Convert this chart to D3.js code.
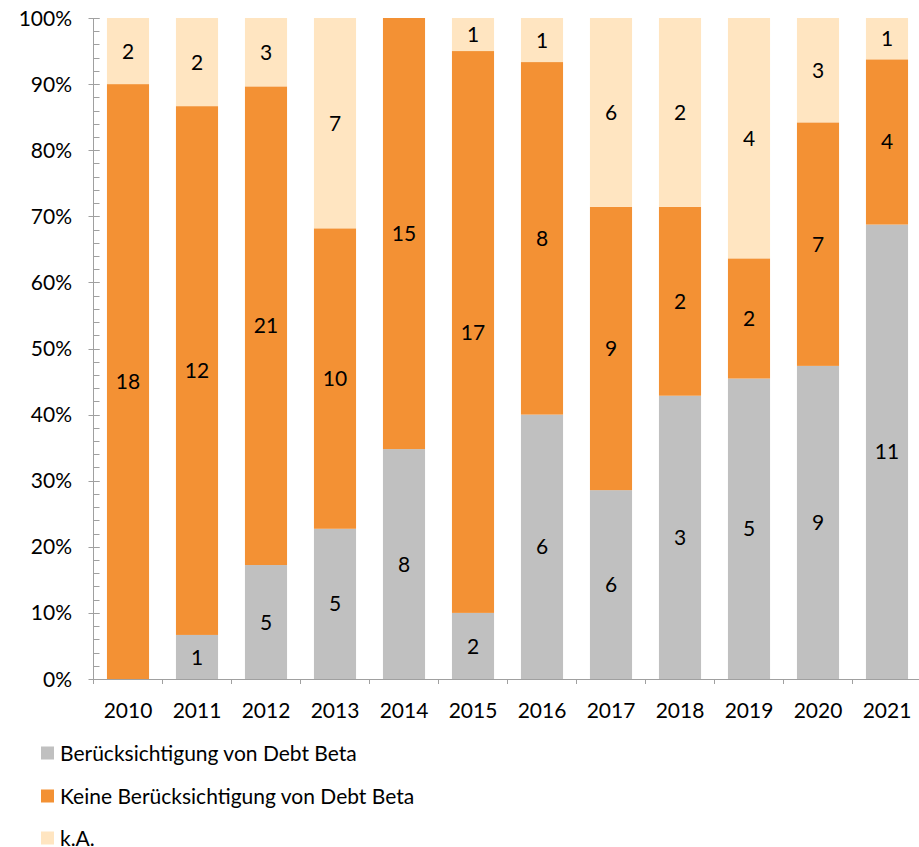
<!DOCTYPE html>
<html>
<head>
<meta charset="utf-8">
<script src="https://cdn.jsdelivr.net/npm/d3@7"></script>
<style>
  body { margin: 0; background: #fff; }
  text { font-family: Lato, "Open Sans", sans-serif; fill: #000; }
</style>
</head>
<body>
<div class="canvas"></div>
<script>
// data
const years = ['2010','2011','2012','2013','2014','2015','2016','2017','2018','2019','2020','2021'];
const mitBeta   = [0, 1, 5, 5, 8, 2, 6, 6, 3, 5, 9, 11];
const keineBeta = [18, 12, 21, 10, 15, 17, 8, 9, 2, 2, 7, 4];
const keineAng  = [2, 2, 3, 7, 0, 1, 1, 6, 2, 4, 3, 1];
const seriesNames = ['Berücksichtigung von Debt Beta', 'Keine Berücksichtigung von Debt Beta', 'k.A.'];
const seriesColors = ['#c0c0c0', '#f39134', '#ffe5c1'];

const W = 919, H = 847;
const m = { t: 18, l: 93.5, b: 168 };
const fs = '21px';

const rows = years.map((y, i) => ({
  year: y, a: mitBeta[i], b: keineBeta[i], c: keineAng[i]
}));
const keys = ['a', 'b', 'c'];

const stack = d3.stack().keys(keys).offset(d3.stackOffsetExpand);
const layers = stack(rows);

const svg = d3.select('.canvas').append('svg')
  .attr('width', W).attr('height', H);

const step = 69;
const x = d3.scaleBand()
  .domain(years)
  .range([m.l, m.l + step * years.length])
  .paddingInner(0.39)
  .paddingOuter(0.195);

const y = d3.scaleLinear().domain([0, 1]).range([H - m.b, m.t]);

//bars
const g = svg.append('g');
layers.forEach((layer, li) => {
  g.selectAll('.bar-' + li)
    .data(layer)
    .enter()
    .append('rect')
    .attr('x', d => x(d.data.year))
    .attr('y', d => y(d[1]))
    .attr('width', x.bandwidth())
    .attr('height', d => y(d[0]) - y(d[1]))
    .style('fill', seriesColors[li]);

  g.selectAll('.lab-' + li)
    .data(layer.filter(d => d.data[keys[li]] > 0))
    .enter()
    .append('text')
    .attr('x', d => x(d.data.year) + x.bandwidth() / 2)
    .attr('y', d => (y(d[0]) + y(d[1])) / 2)
    .attr('dy', '.36em')
    .attr('text-anchor', 'middle')
    .style('font-size', fs)
    .text(d => d.data[keys[li]]);
});

//y axis
const axisColor = '#a0a0a0';
const yAxis = svg.append('g');
yAxis.append('line')
  .attr('x1', m.l).attr('x2', m.l)
  .attr('y1', y(0)).attr('y2', y(1))
  .style('stroke', axisColor);
const minor = d3.range(0, 101, 2).map(v => v / 100);
yAxis.selectAll('.minor').data(minor).enter().append('line')
  .attr('x1', m.l).attr('x2', m.l + 6)
  .attr('y1', d => Math.round(y(d)) + 0.5).attr('y2', d => Math.round(y(d)) + 0.5)
  .style('stroke', axisColor);
const major = d3.range(0, 11).map(v => v / 10);
yAxis.selectAll('.major').data(major).enter().append('line')
  .attr('x1', m.l - 5).attr('x2', m.l + 6)
  .attr('y1', d => Math.round(y(d)) + 0.5).attr('y2', d => Math.round(y(d)) + 0.5)
  .style('stroke', axisColor);
yAxis.selectAll('.ylab').data(major).enter().append('text')
  .attr('x', 72)
  .attr('y', d => y(d))
  .attr('dy', '.36em')
  .attr('text-anchor', 'end')
  .style('font-size', fs)
  .text(d => d3.format('.0%')(d));

//x axis
const xAxis = svg.append('g');
xAxis.append('line')
  .attr('x1', m.l).attr('x2', W)
  .attr('y1', y(0) + 0.5).attr('y2', y(0) + 0.5)
  .style('stroke', axisColor);
xAxis.selectAll('.xtick').data(d3.range(0, years.length + 1)).enter().append('line')
  .attr('x1', i => m.l + i * step).attr('x2', i => m.l + i * step)
  .attr('y1', y(0)).attr('y2', y(0) + 5)
  .style('stroke', axisColor);
xAxis.selectAll('.xlab').data(years).enter().append('text')
  .attr('x', d => x(d) + x.bandwidth() / 2)
  .attr('y', y(0) + 31)
  .attr('dy', '.36em')
  .attr('text-anchor', 'middle')
  .style('font-size', fs)
  .text(d => d);

//legend
const legendY = [753, 796, 838];
const legend = svg.append('g').selectAll('.item')
  .data(seriesNames).enter().append('g')
  .attr('transform', (d, i) => `translate(41,${legendY[i]})`);
legend.append('rect')
  .attr('x', 0).attr('y', -6.5)
  .attr('width', 13).attr('height', 13)
  .style('fill', (d, i) => seriesColors[i]);
legend.append('text')
  .attr('x', 19).attr('y', 0).attr('dy', '.36em')
  .style('font-size', fs)
  .text(d => d);
</script>
</body>
</html>
